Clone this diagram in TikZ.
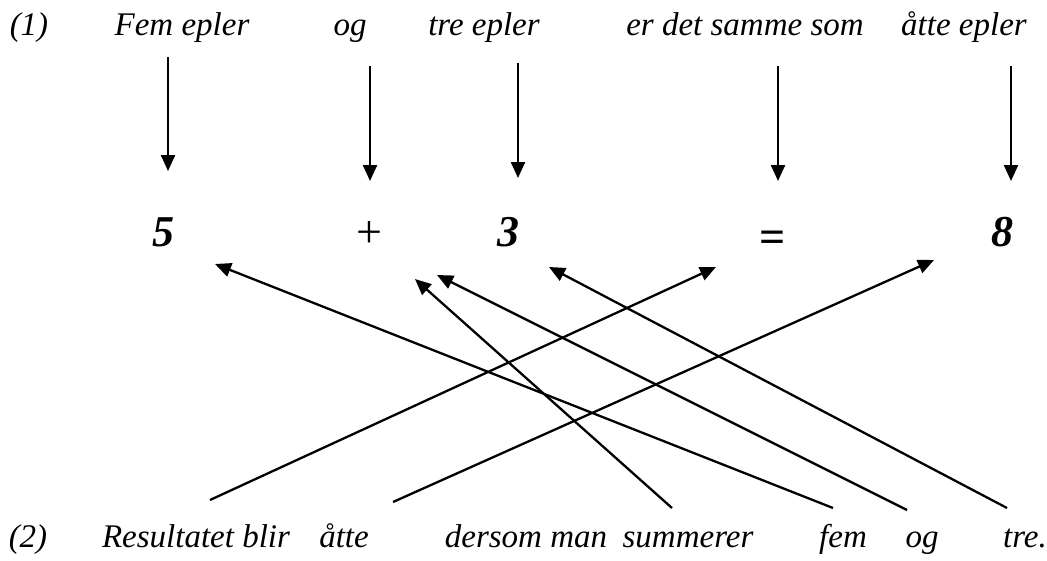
\documentclass[tikz,border=0pt]{standalone}
\usepackage{fontspec}
\setmainfont{Liberation Serif}
\usetikzlibrary{arrows.meta}
\begin{document}
\begin{tikzpicture}[x=1pt,y=-1pt,
  word/.style={font=\fontsize{33}{40}\selectfont\itshape, anchor=base, inner sep=0pt},
  num/.style={font=\fontsize{44}{50}\selectfont\bfseries\itshape, anchor=base, inner sep=0pt},
  op/.style={font=\fontsize{46}{52}\selectfont, anchor=base, inner sep=0pt},
  arr/.style={line width=2.3pt, -{Triangle[length=16pt,width=14pt]}}]
\useasboundingbox (0,0) rectangle (1047,560);
% top sentence
\node[word] (t0) at (29,35) {(1)};
\node[word] (t1) at (182,35) {Fem epler};
\node[word] (t2) at (350,35) {og};
\node[word] (t3) at (484,35) {tre epler};
\node[word] (t4) at (745,35) {er det samme som};
\node[word] (t5) at (964,35) {åtte epler};
% equation
\node[num] (n5) at (163,246) {5};
\node[op] (plus) at (369,247) {+};
\node[num] (n3) at (508,246) {3};
\node[op,font=\fontsize{46}{52}\selectfont\bfseries] (eq) at (773,252) {=};
\node[num] (n8) at (1002,246) {8};
% bottom sentence
\node[word] (b0) at (28,547) {(2)};
\node[word] (b1) at (196,547) {Resultatet blir};
\node[word] (b2) at (344,547) {åtte};
\node[word] (b3) at (526,547) {dersom man};
\node[word] (b4) at (688,547) {summerer};
\node[word] (b5) at (843,547) {fem};
\node[word] (b6) at (922,547) {og};
\node[word] (b7) at (1025,547) {tre.};
% vertical arrow end points
\coordinate (v1a) at (168,57);  \coordinate (v1b) at (168,171);
\coordinate (v2a) at (370,66);  \coordinate (v2b) at (370,181);
\coordinate (v3a) at (518,63);  \coordinate (v3b) at (518,178);
\coordinate (v4a) at (778,66);  \coordinate (v4b) at (778,181);
\coordinate (v5a) at (1011,66); \coordinate (v5b) at (1011,181);
\draw[arr] (v1a) -- (v1b);
\draw[arr] (v2a) -- (v2b);
\draw[arr] (v3a) -- (v3b);
\draw[arr] (v4a) -- (v4b);
\draw[arr] (v5a) -- (v5b);
% diagonal arrow end points
\coordinate (d1a) at (210,500); \coordinate (d1b) at (716,267);
\coordinate (d2a) at (393,502); \coordinate (d2b) at (934,260);
\coordinate (d3a) at (672,508); \coordinate (d3b) at (415,279);
\coordinate (d4a) at (833,508); \coordinate (d4b) at (215,264);
\coordinate (d5a) at (907,510); \coordinate (d5b) at (437,275);
\coordinate (d6a) at (1007,508); \coordinate (d6b) at (549,267);
\draw[arr] (d1a) -- (d1b);
\draw[arr] (d2a) -- (d2b);
\draw[arr] (d3a) -- (d3b);
\draw[arr] (d4a) -- (d4b);
\draw[arr] (d5a) -- (d5b);
\draw[arr] (d6a) -- (d6b);
\end{tikzpicture}
\end{document}
